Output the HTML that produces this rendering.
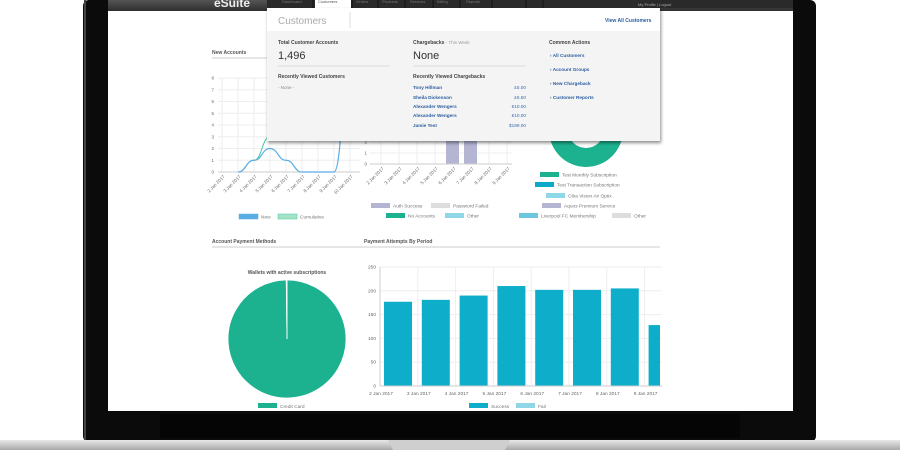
<!DOCTYPE html>
<html><head><meta charset="utf-8">
<style>
html,body{margin:0;padding:0;background:#fff;}
body{width:900px;height:450px;overflow:hidden;position:relative;font-family:"Liberation Sans",sans-serif;}
svg text{font-family:"Liberation Sans",sans-serif;}
</style></head>
<body>
<svg id="s" width="900" height="450" viewBox="0 0 900 450" xmlns="http://www.w3.org/2000/svg">
<defs>
<linearGradient id="nav" x1="0" y1="0" x2="0" y2="1"><stop offset="0" stop-color="#555"/><stop offset="1" stop-color="#2e2e2e"/></linearGradient>
<linearGradient id="base" x1="0" y1="0" x2="0" y2="1"><stop offset="0" stop-color="#e8e8e8"/><stop offset="1" stop-color="#a9a9a9"/></linearGradient>
<filter id="sh" x="-5%" y="-5%" width="110%" height="115%"><feDropShadow dx="1" dy="2" stdDeviation="1.5" flood-color="#000" flood-opacity="0.45"/></filter>
</defs>
<rect x="83" y="0" width="733" height="442" rx="6" fill="#0b0b0b"/>
<rect x="84" y="0" width="2" height="440" fill="#444"/>
<rect x="108" y="11" width="685" height="400" fill="#fff"/>
<rect x="160" y="414" width="580" height="24" fill="#050505"/>
<rect x="0" y="440" width="900" height="10" fill="url(#base)"/>
<path d="M388 440 L510 440 L505 450 L393 450 Z" fill="#cfcfcf"/>
<rect x="108" y="0" width="685" height="11" fill="url(#nav)"/>
<rect x="267" y="0" width="526" height="8" fill="#2a2a2a"/>
<text x="214" y="7" font-size="12" font-weight="bold" fill="#eee">eSuite</text>
<g fill="#777" font-size="4">
<text x="282" y="3">Dashboard</text>
<text x="356" y="3">Orders</text>
<text x="382" y="3">Products</text>
<text x="410" y="3">Services</text>
<text x="437" y="3">Billing</text>
<text x="466" y="3">Reports</text>
<text x="638" y="6" fill="#aaa">My Profile | Logout</text>
</g>
<g stroke="#111" stroke-width="1"><line x1="313" y1="0" x2="313" y2="8"/><line x1="352" y1="0" x2="352" y2="8"/><line x1="378" y1="0" x2="378" y2="8"/><line x1="405" y1="0" x2="405" y2="8"/><line x1="433" y1="0" x2="433" y2="8"/><line x1="460" y1="0" x2="460" y2="8"/><line x1="492" y1="0" x2="492" y2="8"/><line x1="526" y1="0" x2="526" y2="8"/><line x1="543" y1="0" x2="543" y2="8"/></g>
<rect x="315" y="0" width="36" height="9" fill="#fff"/>
<text x="318" y="3" font-size="4" fill="#555">Customers</text>

<text x="212" y="54" font-size="5" font-weight="bold" fill="#555">New Accounts</text>
<line x1="212" y1="58" x2="270" y2="58" stroke="#ccc"/>
<text x="212" y="243" font-size="5" font-weight="bold" fill="#555">Account Payment Methods</text>
<text x="364" y="243" font-size="5" font-weight="bold" fill="#555">Payment Attempts By Period</text>
<line x1="212" y1="247" x2="660" y2="247" stroke="#ccc"/>

<g id="charts"></g>

<g filter="url(#sh)">
<rect x="267" y="8" width="393" height="133" fill="#f4f4f4"/>
</g>
<rect x="267" y="8" width="393" height="23" fill="#fff"/>
<line x1="350" y1="12" x2="350" y2="28" stroke="#ddd"/>
<text x="278" y="24" font-size="10" fill="#aaa">Customers</text>
<text x="605" y="22" font-size="5" font-weight="bold" fill="#2a5d9f">View All Customers</text>
<g font-size="5" fill="#444" font-weight="bold">
<text x="278" y="44">Total Customer Accounts</text>
<text x="278" y="59" font-size="11" font-weight="normal" fill="#333">1,496</text>
<text x="278" y="78">Recently Viewed Customers</text>
<text x="278" y="89" font-weight="normal" fill="#888" font-size="4.5">- None -</text>
<text x="413" y="44">Chargebacks <tspan font-weight="normal" fill="#999" font-size="4.5"> -  This Week</tspan></text>
<text x="413" y="59" font-size="11" font-weight="normal" fill="#333">None</text>
<text x="413" y="78">Recently Viewed Chargebacks</text>
<text x="549" y="44">Common Actions</text>
</g>
<line x1="278" y1="66" x2="390" y2="66" stroke="#ddd"/>
<line x1="413" y1="66" x2="526" y2="66" stroke="#ddd"/>
<g font-size="4.7" font-weight="bold" fill="#2a5d9f">
<text x="413" y="89">Tony Hillman</text>
<text x="413" y="99">Sheila Dickenson</text>
<text x="413" y="108">Alexander Wengers</text>
<text x="413" y="117">Alexander Wengers</text>
<text x="413" y="127">Jamie Test</text>
</g>
<g font-size="4.7" fill="#3a6db0" text-anchor="end">
<text x="526" y="89">£5.00</text>
<text x="526" y="99">£5.50</text>
<text x="526" y="108">€10.00</text>
<text x="526" y="117">€10.00</text>
<text x="526" y="127">$199.00</text>
</g>
<g font-size="4.7" font-weight="bold" fill="#2a5d9f">
<text x="550" y="57">›  All Customers</text>
<text x="550" y="71">›  Account Groups</text>
<text x="550" y="85">›  New Chargeback</text>
<text x="550" y="99">›  Customer Reports</text>
</g>
</svg>
<script>
const naDates = ['2 Jan 2017','3 Jan 2017','4 Jan 2017','5 Jan 2017','6 Jan 2017','7 Jan 2017','8 Jan 2017','9 Jan 2017','10 Jan 2017'];
const naTicks = [0,1,2,3,4,5,6,7,8];
const naNew = [null,0,1,2,1,0,0,0,9];
const naCum = [null,0,1,3,4,4,4,4,13];
const authDates = ['2 Jan 2017','3 Jan 2017','4 Jan 2017','5 Jan 2017','6 Jan 2017','7 Jan 2017','8 Jan 2017','9 Jan 2017'];
const authTicks = [0,1,2];
const authSuccess = [0,0,0,0,9,9,0,0];
const payDates = ['2 Jan 2017','3 Jan 2017','4 Jan 2017','5 Jan 2017','6 Jan 2017','7 Jan 2017','8 Jan 2017','9 Jan 2017'];
const payTicks = [0,50,100,150,200,250];
const paySuccess = [177,181,190,210,202,202,205,128];
const pieLabels = ['Credit Card','Other'];
const pieValues = [998,2];
const donutLabels = ['Test Monthly Subscription','Test Transaction Subscription','Ciba Vision Air Optix','Aquos Premium Service','Liverpool FC Membership','Other'];
const donutValues = [100,0,0,0,0,0];

const NS='http://www.w3.org/2000/svg';
const G=document.getElementById('charts');
function mk(tag,attrs,parent){const e=document.createElementNS(NS,tag);for(const k in attrs)e.setAttribute(k,attrs[k]);(parent||G).appendChild(e);return e;}

const naX=i=>222+i*16, naY=v=>172-v*(94/8);
naTicks.forEach(t=>{
  const l=mk('line',{x1:218,x2:360,y1:naY(t),y2:naY(t),stroke:'#eee'});
  
  
  const tx=mk('text',{x:214,y:naY(t)+1.5,'font-size':4.5,fill:'#666','text-anchor':'end'});tx.textContent=t;
  
  
});
naDates.forEach((d,i)=>{
  const l=mk('line',{x1:naX(i),x2:naX(i),y1:naY(8),y2:172,stroke:'#eee'});
  
  
  const tx=mk('text',{x:0,y:0,'font-size':4.5,fill:'#666','text-anchor':'end',transform:`translate(${naX(i)+3},177) rotate(-45)`});tx.textContent=d;
  
  
});
mk('line',{x1:218,x2:360,y1:172,y2:172,stroke:'#ccc'});
function curve(vals,xf,yf){let p='';let prev=null;vals.forEach((v,i)=>{if(v==null)return;const x=xf(i),y=yf(v);if(prev==null)p+=`M${x},${y}`;else{const cx=(prev[0]+x)/2;p+=` C${cx},${prev[1]} ${cx},${y} ${x},${y}`;}prev=[x,y];});return p;}
const cl=mk('path',{d:curve(naCum,naX,naY),fill:'none',stroke:'#3fc7a6','stroke-width':1});


const nl=mk('path',{d:curve(naNew,naX,naY),fill:'none',stroke:'#5aade4','stroke-width':1.2});


[['New','#5aade4',239,'#5aade4'],['Cumulative','#a6e3c6',278,'#3fc7a6']].forEach(([n,c,x,b])=>{
  const r=mk('rect',{x:x,y:214,width:19,height:5,fill:c,stroke:b,'stroke-width':0.5});
  
  
  const t=mk('text',{x:x+22,y:218.5,'font-size':4.8,fill:'#777'});t.textContent=n;
  
  
});

const auX=i=>372+i*18, auY=v=>164-v*11;
authTicks.forEach(t=>{
  const l=mk('line',{x1:370,x2:512,y1:auY(t),y2:auY(t),stroke:'#eee'});
  
  
  const tx=mk('text',{x:367,y:auY(t)+1.5,'font-size':4.5,fill:'#666','text-anchor':'end'});tx.textContent=t;
  
  
});
authDates.forEach((d,i)=>{
  const l=mk('line',{x1:auX(i)+9,x2:auX(i)+9,y1:140,y2:164,stroke:'#eee'});
  
  
  const tx=mk('text',{x:0,y:0,'font-size':4.5,fill:'#666','text-anchor':'end',transform:`translate(${auX(i)+12},169) rotate(-45)`});tx.textContent=d;
  
  
  if(authSuccess[i]>0){const b=mk('rect',{x:auX(i)+2,y:auY(authSuccess[i]),width:13,height:164-auY(authSuccess[i]),fill:'#b4b5d3'});
  
  }
});
mk('line',{x1:370,x2:512,y1:164,y2:164,stroke:'#ccc'});
[['Auth Success','#b4b5d3',371,207],['Password Failed','#ddd',431,207],['No Accounts','#1db28f',386,217],['Other','#8fd6e6',445,217]].forEach(([n,c,x,y])=>{
  const r=mk('rect',{x:x,y:y-4,width:19,height:5,fill:c});
  
  
  const t=mk('text',{x:x+22,y:y+0.5,'font-size':4.8,fill:'#777'});t.textContent=n;
  
  
});

const dc=[586,130], dR=37, dr=18;
const dColors=['#1db28f','#0ea8c8','#8fd6e6','#b4b5d3','#6cc6dd','#ddd'];
const dTot=donutValues.reduce((a,b)=>a+b,0);
let da=-Math.PI/2;
donutValues.forEach((v,i)=>{
  if(v<=0)return;
  const a2=da+v/dTot*Math.PI*2;
  let el;
  if(v/dTot>0.999){el=mk('path',{d:`M${dc[0]-dR},${dc[1]} a${dR},${dR} 0 1,0 ${2*dR},0 a${dR},${dR} 0 1,0 ${-2*dR},0 M${dc[0]-dr},${dc[1]} a${dr},${dr} 0 1,1 ${2*dr},0 a${dr},${dr} 0 1,1 ${-2*dr},0 Z`,fill:dColors[i],'fill-rule':'evenodd'});}
  else{const L=a2-da>Math.PI?1:0;el=mk('path',{d:`M${dc[0]+dR*Math.cos(da)},${dc[1]+dR*Math.sin(da)} A${dR},${dR} 0 ${L},1 ${dc[0]+dR*Math.cos(a2)},${dc[1]+dR*Math.sin(a2)} L${dc[0]+dr*Math.cos(a2)},${dc[1]+dr*Math.sin(a2)} A${dr},${dr} 0 ${L},0 ${dc[0]+dr*Math.cos(da)},${dc[1]+dr*Math.sin(da)} Z`,fill:dColors[i]});}
  
  
  da=a2;
});
const dLeg=[[540,176],[535,186],[546,197],[542,207],[519,217],[612,217]];
donutLabels.forEach((n,i)=>{
  const [x,y]=dLeg[i];
  const r=mk('rect',{x:x,y:y-4,width:19,height:5,fill:dColors[i]});
  
  
  const t=mk('text',{x:x+22,y:y+0.5,'font-size':4.8,fill:'#777'});t.textContent=n;
  
  
});

const pc=[287,339], pR=59;
const pColors=['#1db28f','#eee'];
const ptitle=mk('text',{x:287,y:274,'font-size':5,fill:'#555','text-anchor':'middle','font-weight':'bold'});ptitle.textContent='Wallets with active subscriptions';


const pTot=pieValues.reduce((a,b)=>a+b,0);
let pa=-Math.PI/2;
pieValues.forEach((v,i)=>{
  const a2=pa+v/pTot*Math.PI*2;const L=a2-pa>Math.PI?1:0;
  const s=mk('path',{d:`M${pc[0]},${pc[1]} L${pc[0]+pR*Math.cos(pa)},${pc[1]+pR*Math.sin(pa)} A${pR},${pR} 0 ${L},1 ${pc[0]+pR*Math.cos(a2)},${pc[1]+pR*Math.sin(a2)} Z`,fill:pColors[i],stroke:'#fff','stroke-width':0.8});
  
  
  pa=a2;
});
const pl=mk('rect',{x:258,y:403,width:19,height:5,fill:'#1db28f'});


const plt=mk('text',{x:280,y:408,'font-size':4.8,fill:'#777'});plt.textContent=pieLabels[0];



const pyX=i=>380+i*37.8, pyY=v=>386-v*(119/250);
payTicks.forEach(t=>{
  const l=mk('line',{x1:380,x2:662,y1:pyY(t),y2:pyY(t),stroke:'#eee'});
  
  
  const tx=mk('text',{x:376,y:pyY(t)+1.5,'font-size':4.8,fill:'#666','text-anchor':'end'});tx.textContent=t;
  
  
});
mk('line',{x1:380,x2:380,y1:pyY(250),y2:386,stroke:'#ccc'});
payDates.forEach((d,i)=>{
  const gl=mk('line',{x1:pyX(i+1),x2:pyX(i+1),y1:pyY(250),y2:386,stroke:'#eee'});
  
  
  const w=Math.min(28,660-(pyX(i)+4));
  const b=mk('rect',{x:pyX(i)+4,y:pyY(paySuccess[i]),width:w,height:386-pyY(paySuccess[i]),fill:'#0eaecb'});
  
  
});
mk('line',{x1:380,x2:662,y1:386,y2:386,stroke:'#ccc'});
mk('rect',{x:662,y:255,width:131,height:156,fill:'#fff'});
payDates.forEach((d,i)=>{
  const tx=mk('text',{x:pyX(i)+1,y:395,'font-size':4.8,fill:'#666','text-anchor':'middle'});tx.textContent=d;
  
  
});
[['Success','#0eaecb',469],['Fail','#8fd6e6',516]].forEach(([n,c,x])=>{
  const r=mk('rect',{x:x,y:403,width:19,height:5,fill:c});
  
  
  const t=mk('text',{x:x+22,y:408,'font-size':4.8,fill:'#777'});t.textContent=n;
  
  
});
</script>
</body></html>
